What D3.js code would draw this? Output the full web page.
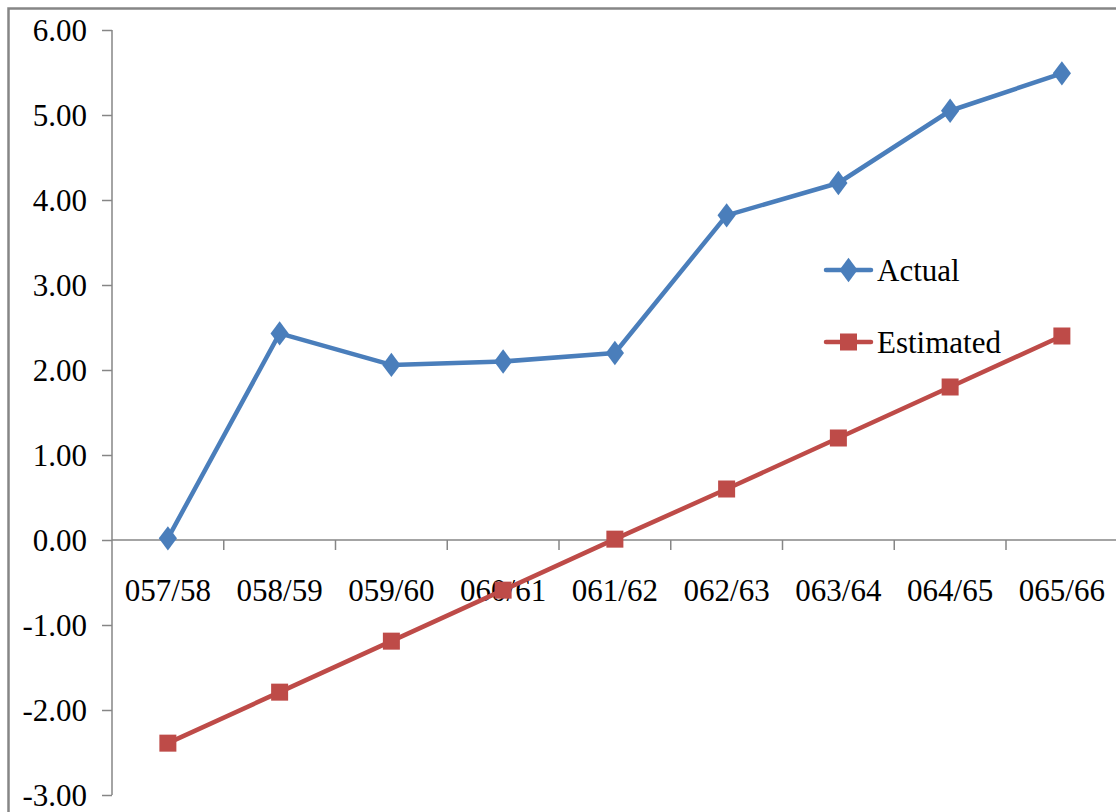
<!DOCTYPE html>
<html>
<head>
<meta charset="utf-8">
<script src="https://cdn.jsdelivr.net/npm/d3@7/dist/d3.min.js"></script>
<style>
  html, body { margin: 0; padding: 0; background: #fff; }
  svg { display: block; }
  text { font-family: "Liberation Serif", "Times New Roman", serif; fill: #000; }
</style>
</head>
<body>
<svg id="chart" width="1116" height="812"></svg>
<script>
// Fiscal years and the two series
const categories = ["057/58", "058/59", "059/60", "060/61", "061/62", "062/63", "063/64", "064/65", "065/66"];
const actual = [0.02, 2.43, 2.06, 2.10, 2.20, 3.82, 4.20, 5.05, 5.49];
const estimated = [-2.39, -1.79, -1.19, -0.59, 0.01, 0.60, 1.20, 1.80, 2.40];
const yTicks = [-3, -2, -1, 0, 1, 2, 3, 4, 5, 6];

const svg = d3.select("#chart");
const axisColor = "#868686";
const blue = "#4A7EBB";
const red = "#BE4B48";
const fmt = v => d3.format(".2f")(v).replace("\u2212", "-");

// Outer chart frame
svg.append("rect")
  .attr("x", 8.5).attr("y", 8.5)
  .attr("width", 1130).attr("height", 830)
  .attr("fill", "none").attr("stroke", axisColor).attr("stroke-width", 2.5);

const x = d3.scaleBand().domain(categories).range([112, 1117.75]);
const y = d3.scaleLinear().domain([-3, 6]).range([795, 30]);

// Y axis
const yAxis = svg.append("g").attr("transform", "translate(112,0)")
  .call(d3.axisLeft(y).tickValues(yTicks).tickFormat(fmt).tickSize(10).tickPadding(15));
yAxis.select(".domain").attr("stroke", axisColor).attr("stroke-width", 1.5).attr("d", "M0,30V795");
yAxis.selectAll(".tick line").attr("stroke", axisColor).attr("stroke-width", 1.5);
yAxis.selectAll(".tick text")
  .style("font-family", "Liberation Serif, Times New Roman, serif")
  .style("font-size", "31px").attr("fill", "#000")
  .attr("dy", "0.34em");

// X axis drawn at zero with tick marks between categories
const x0 = y(0);
const xAxis = svg.append("g").attr("transform", `translate(0,${x0})`);
xAxis.append("line").attr("x1", 112).attr("x2", 1116)
  .attr("stroke", axisColor).attr("stroke-width", 1.5);
xAxis.selectAll("line.tk").data(categories)
  .join("line").attr("class", "tk")
  .attr("x1", d => x(d) + x.bandwidth())
  .attr("x2", d => x(d) + x.bandwidth())
  .attr("y1", 0).attr("y2", 10)
  .attr("stroke", axisColor).attr("stroke-width", 1.5);
xAxis.selectAll("text").data(categories).join("text")
  .attr("x", d => x(d) + x.bandwidth() / 2)
  .attr("y", 61)
  .attr("text-anchor", "middle")
  .style("font-size", "31px")
  .text(d => d);

const cx = (d, i) => x(categories[i]) + x.bandwidth() / 2;
const line = d3.line().x((d, i) => cx(d, i)).y(d => y(d));

// Estimated series
svg.append("path").datum(estimated)
  .attr("d", line).attr("fill", "none")
  .attr("stroke", red).attr("stroke-width", 4.5).attr("stroke-linejoin", "round");
svg.selectAll("rect.est").data(estimated).join("rect").attr("class", "est")
  .attr("x", (d, i) => cx(d, i) - 8.5).attr("y", d => y(d) - 8.5)
  .attr("width", 17).attr("height", 17).attr("fill", red);

// Actual series
svg.append("path").datum(actual)
  .attr("d", line).attr("fill", "none")
  .attr("stroke", blue).attr("stroke-width", 4.5).attr("stroke-linejoin", "round");
const diamond = d3.symbol().type(d3.symbolDiamond).size(170);
svg.selectAll("path.act").data(actual).join("path").attr("class", "act")
  .attr("transform", (d, i) => `translate(${cx(d, i)},${y(d)}) scale(1.3,1)`)
  .attr("d", diamond).attr("fill", blue);

// Legend
const legend = [
  { name: "Actual", color: blue, mark: "diamond", y: 270 },
  { name: "Estimated", color: red, mark: "square", y: 342 }
];
const lg = svg.append("g");
legend.forEach(l => {
  lg.append("line").attr("x1", 826).attr("x2", 871).attr("y1", l.y).attr("y2", l.y)
    .attr("stroke", l.color).attr("stroke-width", 4.5).attr("stroke-linecap", "round");
  if (l.mark === "diamond") {
    lg.append("path").attr("d", diamond)
      .attr("transform", `translate(848.5,${l.y}) scale(1.3,1)`).attr("fill", l.color);
  } else {
    lg.append("rect").attr("x", 840).attr("y", l.y - 8.5).attr("width", 17).attr("height", 17)
      .attr("fill", l.color);
  }
  lg.append("text").attr("x", 877).attr("y", l.y + 11).style("font-size", "31px").text(l.name);
});
</script>
</body>
</html>
